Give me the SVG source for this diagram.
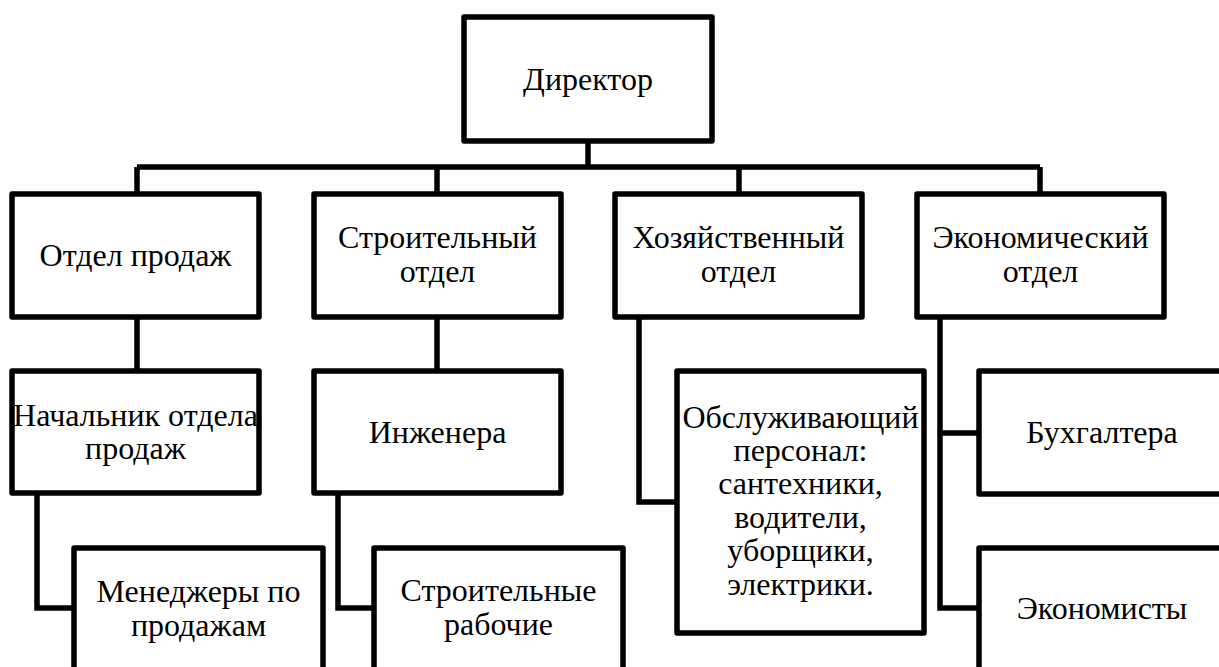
<svg xmlns="http://www.w3.org/2000/svg" width="1219" height="667" viewBox="0 0 1219 667">
<style>
.box{fill:#fff;stroke:#000;stroke-width:5.5;stroke-linejoin:round}
.con{fill:none;stroke:#000;stroke-width:5.5;stroke-linejoin:miter}
text{font-family:'Liberation Serif','Times New Roman',serif;font-size:32px;fill:#000;text-anchor:middle}
</style>
<rect width="1219" height="667" fill="#fff"/>
<g id="connectors">
<path class="con" d="M588 141V167M137 167H1040M137 167V194M437 167V194M739 167V194M1040 167V194"/>
<path class="con" d="M137 317V371M437 317V371"/>
<path class="con" d="M37 493V608H74M338 493V608H374"/>
<path class="con" d="M639 317V502H677"/>
<path class="con" d="M940 317V608H979M940 433H979"/>
</g>
<g id="director"><rect class="box" x="464" y="17" width="248" height="124"/><text x="588" y="90">Директор</text></g>
<g id="sales"><rect class="box" x="12" y="194" width="247" height="123"/><text x="135.5" y="266">Отдел продаж</text></g>
<g id="construction"><rect class="box" x="314" y="194" width="247" height="123"/><text x="437.5" y="248">Строительный</text><text x="437.5" y="282">отдел</text></g>
<g id="household"><rect class="box" x="615" y="194" width="247" height="123"/><text x="738.5" y="248">Хозяйственный</text><text x="738.5" y="282">отдел</text></g>
<g id="economic"><rect class="box" x="917" y="194" width="247" height="123"/><text x="1040.5" y="248">Экономический</text><text x="1040.5" y="282">отдел</text></g>
<g id="sales-head"><rect class="box" x="12" y="371" width="247" height="122"/><text x="135.5" y="426">Начальник отдела</text><text x="135.5" y="459">продаж</text></g>
<g id="engineers"><rect class="box" x="314" y="371" width="247" height="122"/><text x="437.5" y="443">Инженера</text></g>
<g id="managers"><rect class="box" x="74" y="548" width="249" height="130"/><text x="198.5" y="602">Менеджеры по</text><text x="198.5" y="636">продажам</text></g>
<g id="workers"><rect class="box" x="374" y="548" width="249" height="130"/><text x="498.5" y="601">Строительные</text><text x="498.5" y="635">рабочие</text></g>
<g id="service"><rect class="box" x="677" y="371" width="247" height="262"/><text x="800.5" y="428">Обслуживающий</text><text x="800.5" y="461">персонал:</text><text x="800.5" y="494">сантехники,</text><text x="800.5" y="528">водители,</text><text x="800.5" y="561">уборщики,</text><text x="800.5" y="595">электрики.</text></g>
<g id="accountants"><rect class="box" x="979" y="371" width="250" height="123"/><text x="1102" y="443">Бухгалтера</text></g>
<g id="economists"><rect class="box" x="979" y="548" width="250" height="130"/><text x="1102" y="619">Экономисты</text></g>
</svg>
